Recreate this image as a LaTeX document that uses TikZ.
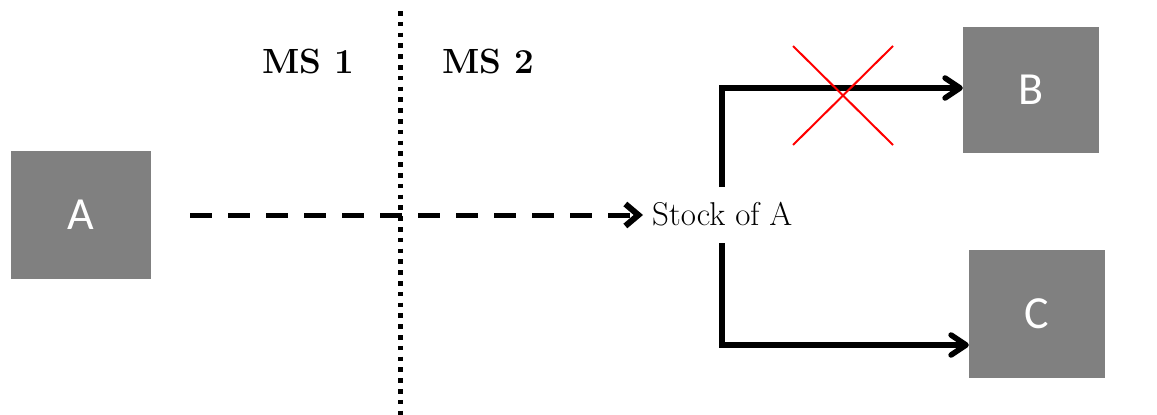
\documentclass[tikz,border=0pt]{standalone}
\usepackage{fontspec}
\newfontfamily\boxfont{Carlito}
\usetikzlibrary{arrows.meta}
\definecolor{boxgray}{RGB}{128,128,128}
\tikzset{
  graybox/.style={fill=boxgray, draw=none, minimum width=#1, inner sep=0pt,
    text=white, font=\boxfont\fontsize{46}{46}\selectfont},
  flowline/.style={line width=5.5pt, line join=miter,
    -{Straight Barb[length=15pt, width=20pt, line cap=round, line join=round]}},
  dashline/.style={line width=5pt, dash pattern=on 22pt off 16pt,
    -{Straight Barb[length=13pt, width=22pt, line width=6pt, line join=miter]}},
  divider/.style={line width=4.5pt, dash pattern=on 4.5pt off 6.3pt},
  cross/.style={draw=red, line width=2pt},
  mslabel/.style={anchor=base west, inner sep=0pt,
    font=\fontsize{35}{35}\selectfont\boldmath\bfseries},
}
\begin{document}
\begin{tikzpicture}[x=1pt, y=-1pt]
\useasboundingbox (0,0) rectangle (1157,415);
% boxes
\node[graybox=140pt, minimum height=128pt] (A) at (81,215) {A};
\node[graybox=136pt, minimum height=126pt] (B) at (1031,90) {B};
\node[graybox=136pt, minimum height=128pt] (C) at (1037,314) {C};
% labels
\node[mslabel] (ms1) at (262,73) {MS \oldstylenums{1}};
\node[mslabel] (ms2) at (442,73) {MS \oldstylenums{2}};
\node[anchor=base west, inner xsep=9pt, inner ysep=0pt,
      font=\fontsize{33}{33}\selectfont] (stock) at (643,225) {Stock of A};
% divider
\coordinate (dtop) at (400.5,11);
\coordinate (dbot) at (400.5,415);
\draw[divider] (dtop) -- (dbot);
% dashed arrow
\coordinate (dstart) at ([xshift=39pt]A.east);
\draw[dashline] (dstart) -- (dstart -| stock.west);
% branches
\coordinate (up) at (722,187);
\coordinate (down) at (722,243);
\draw[flowline] (up) |- ([yshift=2pt]B.west);
\draw[flowline] (down) |- ([yshift=-31pt]C.west);
% red cross
\draw[cross] (793,46) -- (893,145);
\draw[cross] (893,46) -- (793,145);
\end{tikzpicture}
\end{document}
